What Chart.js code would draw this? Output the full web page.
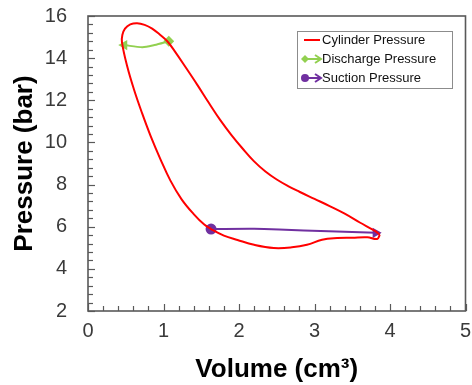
<!DOCTYPE html>
<html>
<head>
<meta charset="utf-8">
<script src="https://cdn.jsdelivr.net/npm/chart.js@4.4.0/dist/chart.umd.min.js"></script>
<style>
  html, body { margin: 0; padding: 0; background: #fff; }
</style>
</head>
<body>
<canvas id="chart" width="472" height="385"></canvas>
<script>
// cylinder p-V loop (cm3, bar)
// compression (upper branch) -> re-expansion (left) -> suction (bottom)
const cylVolume = [3.865, 3.80, 3.60, 3.40, 3.20, 3.0, 2.80, 2.65, 2.50, 2.35, 2.20, 2.05, 1.90, 1.75, 1.60, 1.45, 1.30, 1.15, 1.05, 0.95, 0.85, 0.75, 0.65, 0.56, 0.49, 0.455, 0.45, 0.52, 0.61, 0.715, 0.83, 0.96, 1.09, 1.24, 1.40, 1.54, 1.63, 1.80, 1.98, 2.2, 2.46, 2.7, 2.9, 3.1, 3.3, 3.5, 3.7, 3.83, 3.865];
const cylPressure = [5.62, 5.80, 6.20, 6.62, 6.98, 7.32, 7.66, 7.93, 8.24, 8.62, 9.10, 9.70, 10.35, 11.07, 11.88, 12.72, 13.53, 14.32, 14.80, 15.12, 15.40, 15.58, 15.66, 15.6, 15.4, 15.1, 14.75, 13.6, 12.5, 11.4, 10.3, 9.2, 8.2, 7.3, 6.6, 6.1, 5.89, 5.58, 5.37, 5.14, 4.99, 5.02, 5.14, 5.38, 5.46, 5.48, 5.50, 5.42, 5.62];

// discharge pressure (arrow goes left)
const disVolume = [1.07, 0.88, 0.72, 0.48];
const disPressure = [14.8, 14.62, 14.52, 14.62];

// suction pressure (arrow goes right)
const sucVolume = [1.63, 2.2, 2.53, 3.19, 3.81];
const sucPressure = [5.89, 5.9, 5.87, 5.78, 5.71];

const xTicks = [0, 1, 2, 3, 4, 5];
const yTicks = [2, 4, 6, 8, 10, 12, 14, 16];

const seriesNames = ['Cylinder Pressure', 'Discharge Pressure', 'Suction Pressure'];
const colors = ['#ff0000', '#92d050', '#7030a0'];

function pairs(xs, ys) {
  return xs.map((v, i) => ({ x: v, y: ys[i] }));
}

const FONT = "'Liberation Sans', Arial, sans-serif";

// frame + inward tick marks, Excel style
const framePlugin = {
  id: 'frame',
  afterDraw(chart) {
    const ctx = chart.ctx;
    const a = chart.chartArea;
    const xs = chart.scales.x, ys = chart.scales.y;
    ctx.save();
    ctx.strokeStyle = '#595959';
    ctx.lineWidth = 1.2;
    for (let v = 0; v <= 5.0001; v += 0.2) {
      const px = Math.round(xs.getPixelForValue(v)) + 0.5;
      const major = Math.abs(v - Math.round(v)) < 1e-6;
      ctx.beginPath();
      ctx.moveTo(px, a.bottom);
      ctx.lineTo(px, a.bottom - (major ? 7 : 5));
      ctx.stroke();
    }
    for (let v = 2; v <= 16.0001; v += 0.4) {
      const py = Math.round(ys.getPixelForValue(v)) + 0.5;
      const major = Math.abs(v / 2 - Math.round(v / 2)) < 1e-6;
      ctx.beginPath();
      ctx.moveTo(a.left, py);
      ctx.lineTo(a.left + (major ? 7 : 5), py);
      ctx.stroke();
    }
    ctx.lineWidth = 1.6;
    ctx.strokeRect(a.left, a.top, a.right - a.left, a.bottom - a.top);
    ctx.restore();
  }
};

// legend box inside the plot, top right
const legendPlugin = {
  id: 'boxLegend',
  afterDraw(chart) {
    const ctx = chart.ctx;
    const bx = 297.5, by = 31.5, bw = 155, bh = 57;
    ctx.save();
    ctx.fillStyle = '#fff';
    ctx.fillRect(bx, by, bw, bh);
    ctx.strokeStyle = '#8c8c8c';
    ctx.lineWidth = 1;
    ctx.strokeRect(bx, by, bw, bh);
    ctx.font = '13px ' + FONT;
    ctx.textBaseline = 'middle';
    chart.data.datasets.forEach((ds, i) => {
      const y = 40 + i * 19;
      ctx.strokeStyle = ds.borderColor;
      ctx.fillStyle = ds.borderColor;
      ctx.lineWidth = 2;
      ctx.beginPath();
      ctx.moveTo(304, y);
      ctx.lineTo(320, y);
      ctx.stroke();
      if (i === 1) {
        ctx.beginPath();
        ctx.moveTo(305, y - 4); ctx.lineTo(309, y); ctx.lineTo(305, y + 4); ctx.lineTo(301, y);
        ctx.closePath(); ctx.fill();
      }
      if (i === 2) {
        ctx.beginPath();
        ctx.arc(305, y, 4, 0, Math.PI * 2);
        ctx.fill();
      }
      if (i > 0) {
        ctx.beginPath();
        ctx.moveTo(315, y - 4); ctx.lineTo(321, y); ctx.lineTo(315, y + 4);
        ctx.stroke();
      }
      ctx.fillStyle = '#111';
      ctx.fillText(ds.label, 322, y);
    });
    ctx.restore();
  }
};

const ctx = document.getElementById('chart').getContext('2d');

new Chart(ctx, {
  type: 'scatter',
  data: {
    datasets: [
      {
        label: seriesNames[0],
        data: pairs(cylVolume, cylPressure),
        showLine: true,
        borderColor: colors[0],
        borderWidth: 2,
        pointRadius: 0,
        tension: 0.4
      },
      {
        label: seriesNames[1],
        data: pairs(disVolume, disPressure),
        showLine: true,
        borderColor: colors[1],
        backgroundColor: colors[1],
        borderWidth: 2,
        pointStyle: ['rectRot', 'circle', 'circle', 'triangle'],
        pointRadius: [4, 0, 0, 4],
        rotation: [0, 0, 0, 270],
        tension: 0.3
      },
      {
        label: seriesNames[2],
        data: pairs(sucVolume, sucPressure),
        showLine: true,
        borderColor: colors[2],
        backgroundColor: colors[2],
        borderWidth: 2,
        pointStyle: ['circle', 'circle', 'circle', 'circle', 'triangle'],
        pointRadius: [4.5, 0, 0, 0, 4],
        rotation: [0, 0, 0, 0, 90],
        tension: 0.3
      }
    ]
  },
  options: {
    responsive: false,
    animation: false,
    layout: { padding: { top: 16, right: 5, left: 0, bottom: 0 } },
    plugins: {
      legend: { display: false },
      tooltip: { enabled: false }
    },
    scales: {
      x: {
        type: 'linear',
        min: 0,
        max: 5,
        afterBuildTicks: (s) => { s.ticks = xTicks.map(v => ({ value: v })); },
        afterFit: (s) => { s.height = 74; s.paddingLeft = 0; s.paddingRight = 0; },
        grid: { display: false, drawTicks: false },
        border: { display: false },
        ticks: { color: '#3a3a3a', padding: 8, font: { family: FONT, size: 20 } },
        title: {
          display: true,
          text: 'Volume (cm³)',
          color: '#000',
          padding: { top: 0, bottom: 0 },
          font: { family: FONT, size: 26, weight: 'bold' }
        }
      },
      y: {
        type: 'linear',
        min: 2,
        max: 16,
        afterBuildTicks: (s) => { s.ticks = yTicks.map(v => ({ value: v })); },
        afterFit: (s) => { s.width = 88; s.paddingTop = 0; s.paddingBottom = 0; },
        grid: { display: false, drawTicks: false },
        border: { display: false },
        ticks: { color: '#3a3a3a', padding: 21, font: { family: FONT, size: 20 } },
        title: {
          display: true,
          text: 'Pressure (bar)',
          color: '#000',
          padding: { top: 9, bottom: 0 },
          font: { family: FONT, size: 26, weight: 'bold' }
        }
      }
    }
  },
  plugins: [framePlugin, legendPlugin]
});
</script>
</body>
</html>
